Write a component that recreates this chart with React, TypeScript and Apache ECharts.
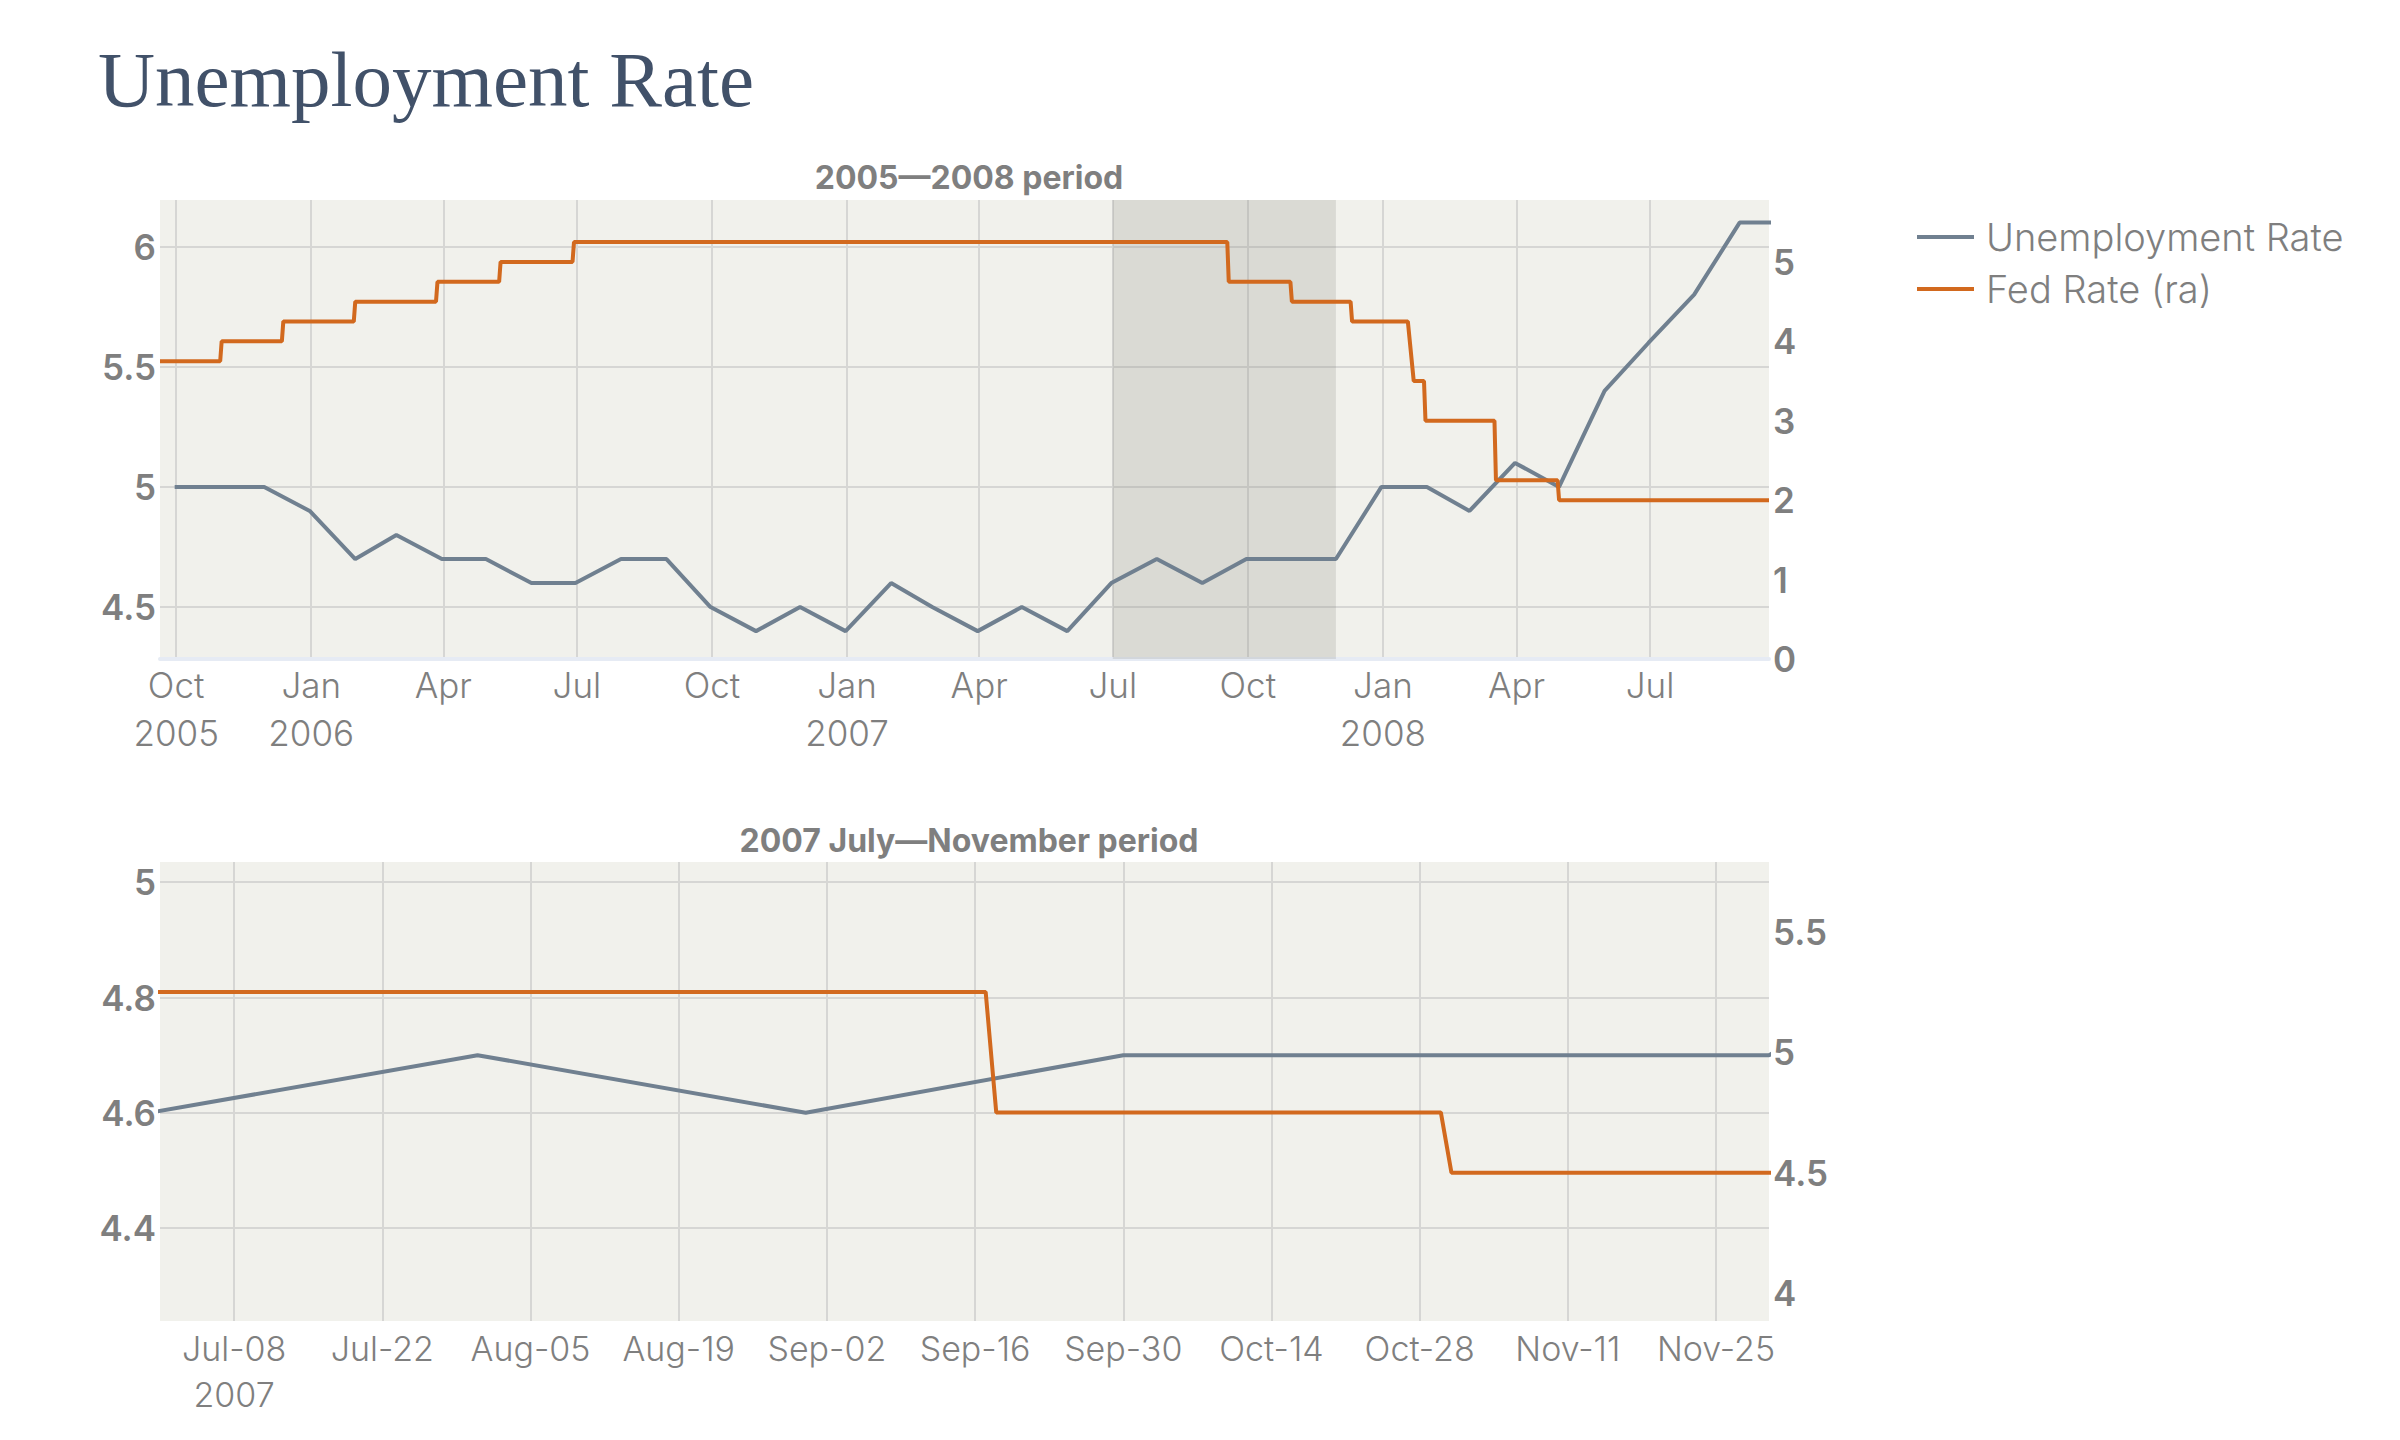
import React, { useEffect, useRef } from 'react';
import * as echarts from 'echarts';

// ---- Data ----
const unempDates = [
  '2005-09-30', '2005-10-31', '2005-11-30', '2005-12-31',
  '2006-01-31', '2006-02-28', '2006-03-31', '2006-04-30', '2006-05-31', '2006-06-30',
  '2006-07-31', '2006-08-31', '2006-09-30', '2006-10-31', '2006-11-30', '2006-12-31',
  '2007-01-31', '2007-02-28', '2007-03-31', '2007-04-30', '2007-05-31', '2007-06-30',
  '2007-07-31', '2007-08-31', '2007-09-30', '2007-10-31', '2007-11-30', '2007-12-31',
  '2008-01-31', '2008-02-29', '2008-03-31', '2008-04-30', '2008-05-31', '2008-06-30',
  '2008-07-31', '2008-08-31', '2008-09-30',
];
const unempValues = [
  5.0, 5.0, 5.0, 4.9,
  4.7, 4.8, 4.7, 4.7, 4.6, 4.6,
  4.7, 4.7, 4.5, 4.4, 4.5, 4.4,
  4.6, 4.5, 4.4, 4.5, 4.4, 4.6,
  4.7, 4.6, 4.7, 4.7, 4.7, 5.0,
  5.0, 4.9, 5.1, 5.0, 5.4, 5.6,
  5.8, 6.1, 6.1,
];

const fedDates = [
  '2005-09-20', '2005-10-31', '2005-11-01', '2005-12-12', '2005-12-13',
  '2006-01-30', '2006-01-31', '2006-03-27', '2006-03-28', '2006-05-09',
  '2006-05-10', '2006-06-28', '2006-06-29', '2007-09-17', '2007-09-18',
  '2007-10-30', '2007-10-31', '2007-12-10', '2007-12-11', '2008-01-18',
  '2008-01-22', '2008-01-29', '2008-01-30', '2008-03-17', '2008-03-18',
  '2008-04-29', '2008-04-30', '2008-09-20',
];
const fedValues = [
  3.75, 3.75, 4.0, 4.0, 4.25,
  4.25, 4.5, 4.5, 4.75, 4.75,
  5.0, 5.0, 5.25, 5.25, 4.75,
  4.75, 4.5, 4.5, 4.25, 4.25,
  3.5, 3.5, 3.0, 3.0, 2.25,
  2.25, 2.0, 2.0,
];

const topRange = ['2005-09-20', '2008-09-20'];
const bottomRange = ['2007-07-01', '2007-11-30'];
const shadeRange = ['2007-07-01', '2007-11-30'];

const topTickDates = [
  '2005-10-01', '2006-01-01', '2006-04-01', '2006-07-01', '2006-10-01', '2007-01-01',
  '2007-04-01', '2007-07-01', '2007-10-01', '2008-01-01', '2008-04-01', '2008-07-01',
];
const topTickLabels = [
  'Oct\n2005', 'Jan\n2006', 'Apr', 'Jul', 'Oct', 'Jan\n2007',
  'Apr', 'Jul', 'Oct', 'Jan\n2008', 'Apr', 'Jul',
];
const bottomTickDates = [
  '2007-07-08', '2007-07-22', '2007-08-05', '2007-08-19', '2007-09-02', '2007-09-16',
  '2007-09-30', '2007-10-14', '2007-10-28', '2007-11-11', '2007-11-25',
];
const bottomTickLabels = [
  'Jul-08\n2007', 'Jul-22', 'Aug-05', 'Aug-19', 'Sep-02', 'Sep-16',
  'Sep-30', 'Oct-14', 'Oct-28', 'Nov-11', 'Nov-25',
];

const topLeftTicks = [4.5, 5, 5.5, 6];
const topRightTicks = [0, 1, 2, 3, 4, 5];
const bottomLeftTicks = [4.4, 4.6, 4.8, 5];
const bottomRightTicks = [4, 4.5, 5, 5.5];

const topLeftRange = [4.284, 6.194];
const topRightRange = [0, 5.78];
const bottomLeftRange = [4.239, 5.035];
const bottomRightRange = [3.884, 5.79];

// ---- Styling ----
const UNEMP_COLOR = '#708090';
const FED_COLOR = '#d2691e';
const GRID_COLOR = '#d6d6d4';
const LABEL_COLOR = '#7f7f7f';
const SANS = 'Inter, "Noto Sans", sans-serif';

const ts = (s: string) => {
  const [y, m, d] = s.split('-').map(Number);
  return new Date(y, m - 1, d).getTime();
};

export default function App() {
  const ref = useRef<HTMLDivElement>(null);

  useEffect(() => {
    if (!ref.current) return;
    const chart = echarts.init(ref.current, undefined, { renderer: 'svg' });

    const unempData = unempDates.map((d, i) => [ts(d), unempValues[i]]);
    const fedData = fedDates.map((d, i) => [ts(d), fedValues[i]]);

    const makeMap = (dates: string[], labels: string[]) => {
      const m: Record<number, string> = {};
      dates.forEach((d, i) => (m[ts(d)] = labels[i]));
      return m;
    };
    const topMap = makeMap(topTickDates, topTickLabels);
    const bottomMap = makeMap(bottomTickDates, bottomTickLabels);

    const grids = [
      { left: 160, top: 200, width: 1609, height: 459 },
      { left: 160, top: 862, width: 1609, height: 459 },
    ];

    const xAxisBase = (
      idx: number, range: string[], ticks: string[], map: Record<number, string>,
      withLine: boolean, margin: number, lh: number, fs: number,
    ) => ({
      type: 'value',
      gridIndex: idx,
      min: ts(range[0]),
      max: ts(range[1]),
      axisLine: withLine
        ? { show: true, onZero: false, lineStyle: { color: '#e6ebf4', width: 4 } }
        : { show: false },
      axisTick: { show: false, customValues: ticks.map(ts) },
      splitLine: { show: true, lineStyle: { color: GRID_COLOR, width: 2 } },
      axisLabel: {
        customValues: ticks.map(ts),
        formatter: (v: number) => map[v] ?? '',
        color: LABEL_COLOR,
        fontFamily: SANS,
        fontWeight: 300,
        fontSize: fs,
        lineHeight: lh,
        margin,
        verticalAlign: 'top',
      },
    });

    const yAxisBase = (idx: number, range: number[], ticks: number[], right: boolean) => ({
      type: 'value',
      gridIndex: idx,
      position: right ? 'right' : 'left',
      min: range[0],
      max: range[1],
      axisLine: { show: false },
      axisTick: { show: false, customValues: ticks },
      splitLine: right ? { show: false } : { show: true, lineStyle: { color: GRID_COLOR, width: 2 } },
      axisLabel: {
        customValues: ticks,
        color: LABEL_COLOR,
        fontFamily: SANS,
        fontWeight: 600,
        fontSize: 35,
        margin: 4,
      },
    });

    const lineSeries = (name: string, data: any[], xi: number, yi: number, color: string, extra: any = {}) => ({
      name,
      type: 'line',
      xAxisIndex: xi,
      yAxisIndex: yi,
      data,
      showSymbol: false,
      symbol: 'none',
      clip: true,
      lineStyle: { color, width: 4 },
      itemStyle: { color },
      ...extra,
    });

    chart.setOption({
      animation: false,
      backgroundColor: '#ffffff',
      title: [
        {
          text: 'Unemployment Rate',
          left: 93,
          top: 35,
          textStyle: { fontFamily: '"Liberation Serif", serif', fontSize: 79, fontWeight: 'normal', color: '#415169' },
        },
        {
          text: '2005\u20142008 period',
          left: 964,
          textAlign: 'center',
          top: 156,
          textStyle: { fontFamily: SANS, fontSize: 32, fontWeight: 700, color: LABEL_COLOR },
        },
        {
          text: '2007 July\u2014November period',
          left: 964,
          textAlign: 'center',
          top: 819,
          textStyle: { fontFamily: SANS, fontSize: 32, fontWeight: 700, color: LABEL_COLOR },
        },
      ],
      legend: {
        orient: 'vertical',
        left: 1912,
        top: 212,
        icon: 'rect',
        itemWidth: 57,
        itemHeight: 4,
        itemGap: 12,
        data: ['Unemployment Rate', 'Fed Rate (ra)'],
        textStyle: {
          fontFamily: SANS,
          fontWeight: 300,
          fontSize: 38,
          lineHeight: 40,
          color: LABEL_COLOR,
          padding: [0, 0, 0, 7],
        },
      },
      grid: grids.map((g) => ({ ...g, backgroundColor: '#f1f1ec', show: true, borderWidth: 0 })),
      xAxis: [
        xAxisBase(0, topRange, topTickDates, topMap, true, 2, 48, 35),
        xAxisBase(1, bottomRange, bottomTickDates, bottomMap, false, 4, 46, 34),
      ],
      yAxis: [
        yAxisBase(0, topLeftRange, topLeftTicks, false),
        yAxisBase(0, topRightRange, topRightTicks, true),
        yAxisBase(1, bottomLeftRange, bottomLeftTicks, false),
        yAxisBase(1, bottomRightRange, bottomRightTicks, true),
      ],
      series: [
        lineSeries('Unemployment Rate', unempData, 0, 0, UNEMP_COLOR, {
          markArea: {
            silent: true,
            itemStyle: { color: 'rgba(128,128,122,0.2)' },
            data: [[{ xAxis: ts(shadeRange[0]) }, { xAxis: ts(shadeRange[1]) }]],
          },
        }),
        lineSeries('Fed Rate (ra)', fedData, 0, 1, FED_COLOR),
        lineSeries('Unemployment Rate', unempData, 1, 2, UNEMP_COLOR),
        lineSeries('Fed Rate (ra)', fedData, 1, 3, FED_COLOR),
      ],
    });

    return () => chart.dispose();
  }, []);

  return (
    <div
      ref={ref}
      style={{ position: 'fixed', left: 0, top: 0, width: 2400, height: 1440, background: '#ffffff' }}
    />
  );
}
